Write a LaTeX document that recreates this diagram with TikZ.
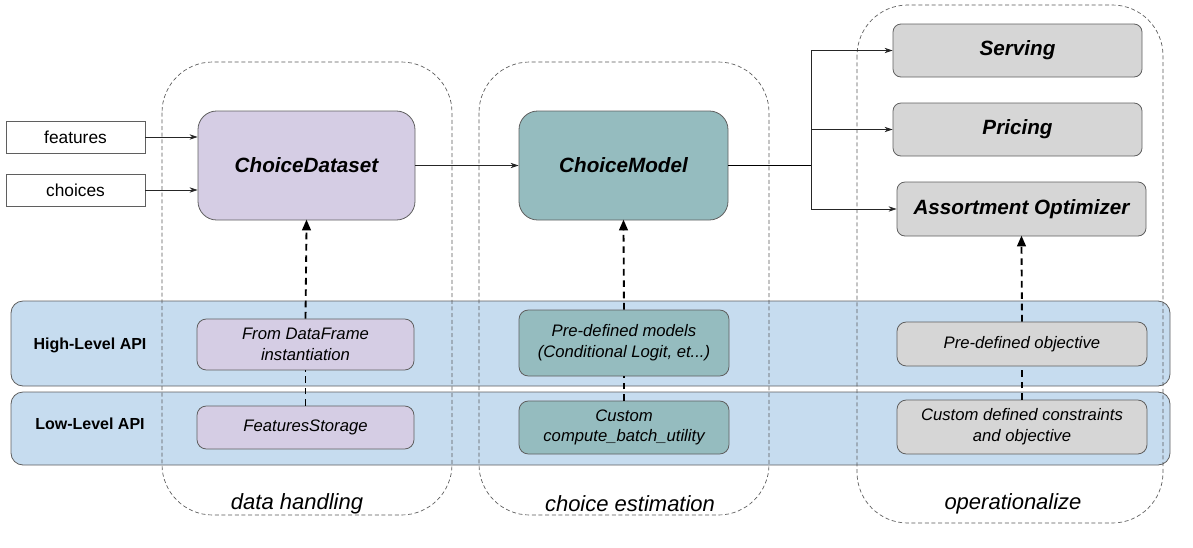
\documentclass[tikz,border=0pt]{standalone}
\usepackage{fontspec}
\setmainfont{Liberation Sans}
\usetikzlibrary{arrows.meta}
\definecolor{lav}{HTML}{D5CDE4}
\definecolor{teal2}{HTML}{95BCBF}
\definecolor{gry}{HTML}{D6D6D6}
\definecolor{band}{HTML}{C6DCEF}
\definecolor{edge}{HTML}{5F5F5F}
\tikzset{
  grp/.style={draw=black!65, dashed, dash pattern=on 3pt off 2pt, line width=0.5pt, rounded corners=38pt},
  bandbox/.style={draw=edge, fill=band, line width=0.6pt, rounded corners=9pt},
  mainbox/.style={draw=edge, line width=0.6pt, rounded corners=14pt, font=\fontsize{15.5}{18}\selectfont\bfseries\itshape},
  opbox/.style={draw=edge, fill=gry, line width=0.6pt, rounded corners=6pt, font=\fontsize{15.5}{18}\selectfont\bfseries\itshape},
  apibox/.style={draw=edge, line width=0.6pt, rounded corners=7pt, align=center, font=\fontsize{12.5}{15.5}\selectfont\itshape},
  inbox/.style={draw=edge, fill=white, line width=0.6pt, font=\fontsize{13}{15}\selectfont},
  arr/.style={-{Stealth[length=6pt,width=4pt]}, line width=0.6pt, draw=black!85},
  darr/.style={line width=1.4pt, dash pattern=on 5pt off 3.5pt},
  grplabel/.style={font=\fontsize{16.5}{19}\selectfont\itshape},
  apilabel/.style={font=\fontsize{12}{14}\selectfont\bfseries}
}
\begin{document}
\begin{tikzpicture}[x=0.75pt,y=-0.75pt]
\useasboundingbox (0,0) rectangle (1193,547);
% bands
\draw[bandbox] (11,301) rectangle (1170,386);
\draw[bandbox] (11,392) rectangle (1170,465);
% groups
\draw[grp] (162,62) rectangle (452,515);
\draw[grp] (479,62) rectangle (769,515);
\draw[grp] (857,5) rectangle (1163,523);
\node[grplabel] (g1) at (297,504) {data handling};
\node[grplabel] (g2) at (630,504) {choice estimation};
\node[grplabel] (g3) at (1013,504) {operationalize};
\node[apilabel] (hl) at (90,345) {High-Level API};
\node[apilabel] (ll) at (90,424) {Low-Level API};
% inputs
\node[inbox, minimum width=104.25pt, minimum height=24pt] (feat) at (75.5,137) {features};
\node[inbox, minimum width=104.25pt, minimum height=24pt] (cho) at (75.5,190) {choices};
% main boxes
\node[mainbox, fill=lav, minimum width=162.75pt, minimum height=81.75pt] (cd) at (306.5,165.5) {ChoiceDataset};
\node[mainbox, fill=teal2, minimum width=156.75pt, minimum height=81.75pt] (cm) at (623.5,165.5) {ChoiceModel};
\node[opbox, minimum width=186.75pt, minimum height=39.75pt] (srv) at (1017.5,50.5) {Serving};
\node[opbox, minimum width=186.75pt, minimum height=39.75pt] (prc) at (1017.5,129.5) {Pricing};
\node[opbox, minimum width=186.75pt, minimum height=40.5pt] (ao) at (1021.5,209) {Assortment Optimizer};
% api boxes
\node[apibox, fill=lav, minimum width=162.75pt, minimum height=38.25pt] (dfi) at (305.5,344.5) {From DataFrame\\instantiation};
\node[apibox, fill=teal2, minimum width=157.5pt, minimum height=49.5pt] (pdm) at (624,343) {Pre-defined models\\(Conditional Logit, et...)};
\node[apibox, fill=gry, minimum width=187.5pt, minimum height=33pt] (pdo) at (1022,344) {Pre-defined objective};
\node[apibox, fill=lav, minimum width=162.75pt, minimum height=32.25pt] (fs) at (305.5,427.5) {FeaturesStorage};
\node[apibox, fill=teal2, minimum width=157.5pt, minimum height=39.75pt] (cbu) at (624,427.5) {Custom\\compute\_batch\_utility};
\node[apibox, fill=gry, minimum width=187.5pt, minimum height=40.5pt] (cdc) at (1022,427) {Custom defined constraints\\and objective};
% connectors
\draw[arr] (feat.east) -- (cd.west |- feat.east);
\draw[arr] (cho.east) -- (cd.west |- cho.east);
\draw[arr] (cd.east) -- (cm.west);
\coordinate (sp) at (811,165.5);
\draw[line width=1pt] (cm.east) -- (sp);
\draw[arr] (sp) |- (srv.west);
\draw[arr] (sp) |- (prc.west);
\draw[arr] (sp) |- (ao.west);
% dashed API arrows
\draw[darr] (fs.north) -- (dfi.south);
\draw[darr] (dfi.north) -- ([yshift=-6pt]cd.south);
\fill ([yshift=0.5pt]cd.south) -- ++(-3.5pt,-8pt) -- ++(7pt,0) -- cycle;
\draw[darr] (cbu.north) -- (pdm.south);
\draw[darr] (pdm.north) -- ([yshift=-6pt]cm.south);
\fill ([yshift=0.5pt]cm.south) -- ++(-3.5pt,-8pt) -- ++(7pt,0) -- cycle;
\draw[darr] (cdc.north) -- (pdo.south);
\draw[darr] (pdo.north) -- ([yshift=-6pt]ao.south);
\fill ([yshift=0.5pt]ao.south) -- ++(-3.5pt,-8pt) -- ++(7pt,0) -- cycle;
\end{tikzpicture}
\end{document}
